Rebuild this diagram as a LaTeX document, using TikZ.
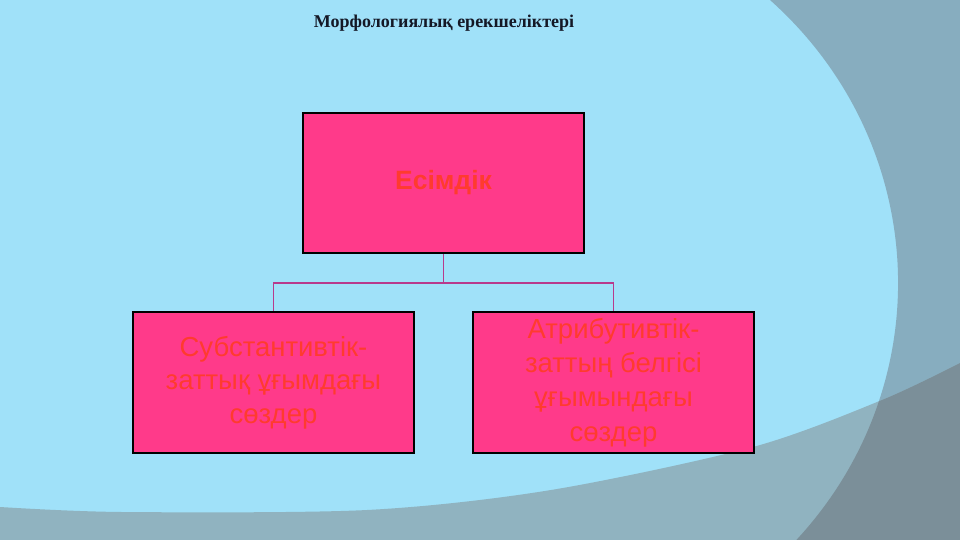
\documentclass[tikz,border=0pt]{standalone}
\usepackage{fontspec}
\setmainfont{Liberation Serif}
\newfontfamily\boxfont{Liberation Sans}
\definecolor{bgblue}{HTML}{A0E1F9}
\definecolor{regA}{HTML}{87ADBF}
\definecolor{regB}{HTML}{90B3C0}
\definecolor{regC}{HTML}{7B8F99}
\definecolor{boxpink}{HTML}{FF3A8A}
\definecolor{boxtext}{HTML}{FF3B2E}
\definecolor{connc}{HTML}{B83A8C}
\definecolor{titlec}{HTML}{141826}
\tikzset{
  pinkbox/.style={draw=black, line width=1.6pt, fill=boxpink, minimum width=281pt, minimum height=140pt, inner sep=0pt, align=center, text=boxtext},
  conn/.style={draw=connc, line width=1.8pt},
}
\begin{document}
\begin{tikzpicture}[x=1pt,y=-1pt]
\useasboundingbox (0,0) rectangle (960,540);
\fill[bgblue] (0,0) rectangle (960,540);
% right region
\fill[regA] (960,0) -- (770,0) arc[start angle=-47.3, end angle=41.9, x radius=398, y radius=385] -- (960,540) -- cycle;
% bottom region
\fill[regB] plot[smooth] coordinates {(0,507) (122,512) (367,510) (551,490) (753,447) (882,400) (960,363)} -- (960,540) -- (0,540) -- cycle;
\begin{scope}
\clip plot[smooth] coordinates {(0,507) (122,512) (367,510) (551,490) (753,447) (882,400) (960,363)} -- (960,540) -- (0,540) -- cycle;
\fill[regC] (960,0) -- (770,0) arc[start angle=-47.3, end angle=41.9, x radius=398, y radius=385] -- (960,540) -- cycle;
\end{scope}
% title
\node[text=titlec, font=\bfseries\fontsize{18}{20}\selectfont] (title) at (444,23) {Морфологиялық ерекшеліктері};
% boxes
\node[pinkbox, font=\boxfont\bfseries\fontsize{26.5}{30}\selectfont] (top) at (443.5,183) {Есімдік};
\node[pinkbox, minimum height=141pt, font=\boxfont\fontsize{27.5}{33.5}\selectfont] (l) at (273.5,382.5) {Субстантивтік-\\заттық ұғымдағы\\сөздер};
\node[pinkbox, minimum height=141pt, font=\boxfont\fontsize{27.5}{34.3}\selectfont] (r) at (613.5,382.5) {Атрибутивтік-\\заттың белгісі\\ұғымындағы\\сөздер};
\coordinate (j) at (443.5,283);
\draw[conn] (top.south) -- (j);
\draw[conn] (l.north) |- (j) -| (r.north);
\end{tikzpicture}
\end{document}
